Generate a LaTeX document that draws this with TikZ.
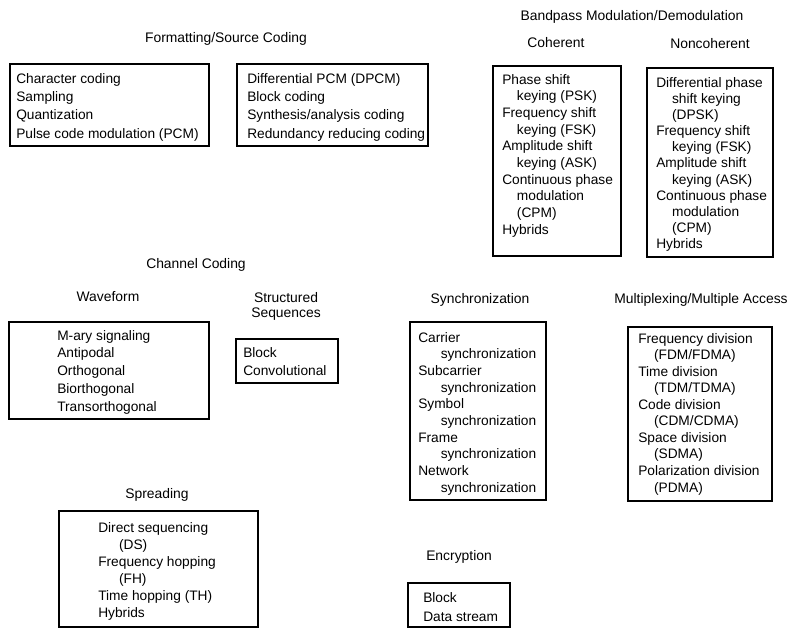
\documentclass[tikz,border=0pt]{standalone}
\usepackage{fontspec}
\setmainfont{Liberation Sans}
\usetikzlibrary{fit}
\newcommand{\T}{\rule{0pt}{8pt}}
\newcommand{\ind}[1][11pt]{\hspace*{#1}}
\tikzset{
  box/.style={draw, line width=0.9pt, inner sep=0pt},
  head/.style={font=\fontsize{10.4pt}{11.2pt}\selectfont, anchor=base, inner sep=0pt, align=center},
  txt/.style={font=\fontsize{10.3pt}{#1}\selectfont, align=left, anchor=north west, inner sep=0pt},
}
\begin{document}
\begin{tikzpicture}[x=0.75pt, y=-0.75pt]
\useasboundingbox (0,0) rectangle (795,628);

% headings
\node[head] (hfs)   at (226,42)  {Formatting/Source Coding};
\node[head] (hbp)   at (632,20)  {Bandpass Modulation/Demodulation};
\node[head] (hcoh)  at (556,47)  {Coherent};
\node[head] (hnon)  at (710,48)  {Noncoherent};
\node[head] (hcc)   at (196,268) {Channel Coding};
\node[head] (hwave) at (108,301) {Waveform};
\node[head] (hstr)  at (286,317) {Structured\\Sequences};
\node[head] (hsync) at (480,303) {Synchronization};
\node[head] (hmux)  at (701,303) {Multiplexing/Multiple Access};
\node[head] (hspr)  at (157,498) {Spreading};
\node[head] (henc)  at (459,560) {Encryption};

% boxes
\node[box, fit={(10,64) (209,146)}]   (bfs1) {};
\node[box, fit={(237,64) (428,146)}]  (bfs2) {};
\node[box, fit={(493,66) (621,256)}]  (bcoh) {};
\node[box, fit={(647,68) (773,257)}]  (bnon) {};
\node[box, fit={(9,322) (209,419)}]   (bwave) {};
\node[box, fit={(236,339) (338,383)}] (bstr) {};
\node[box, fit={(410,322) (546,500)}] (bsync) {};
\node[box, fit={(628,327) (772,501)}] (bmux) {};
\node[box, fit={(59,511) (258,627)}]  (bspr) {};
\node[box, fit={(408,583) (510,627)}] (benc) {};

% box texts
\node[txt=13.7pt] (tfs1) at (16,72.3) {\T Character coding\\Sampling\\Quantization\\Pulse code modulation (PCM)};
\node[txt=13.7pt] (tfs2) at (247,72.3) {\T Differential PCM (DPCM)\\Block coding\\Synthesis/analysis coding\\Redundancy reducing coding};
\node[txt=12.5pt] (tcoh) at (502,73.3) {\T Phase shift\\\ind keying (PSK)\\Frequency shift\\\ind keying (FSK)\\Amplitude shift\\\ind keying (ASK)\\Continuous phase\\\ind modulation\\\ind (CPM)\\Hybrids};
\node[txt=12.1pt] (tnon) at (656,76.3) {\T Differential phase\\\ind[9pt] shift keying\\\ind[9pt] (DPSK)\\Frequency shift\\\ind[9pt] keying (FSK)\\Amplitude shift\\\ind[9pt] keying (ASK)\\Continuous phase\\\ind[9pt] modulation\\\ind[9pt] (CPM)\\Hybrids};
\node[txt=13.3pt] (twave) at (57,329.3) {\T M-ary signaling\\Antipodal\\Orthogonal\\Biorthogonal\\Transorthogonal};
\node[txt=13.5pt] (tstr) at (243,346.3) {\T Block\\Convolutional};
\node[txt=12.5pt] (tsync) at (418,331.3) {\T Carrier\\\ind[14pt] synchronization\\Subcarrier\\\ind[14pt] synchronization\\Symbol\\\ind[14pt] synchronization\\Frame\\\ind[14pt] synchronization\\Network\\\ind[14pt] synchronization};
\node[txt=12.4pt] (tmux) at (638,332.3) {\T Frequency division\\\ind[9pt] (FDM/FDMA)\\Time division\\\ind[9pt] (TDM/TDMA)\\Code division\\\ind[9pt] (CDM/CDMA)\\Space division\\\ind[9pt] (SDMA)\\Polarization division\\\ind[9pt] (PDMA)};
\node[txt=12.75pt] (tspr) at (98,521.3) {\T Direct sequencing\\\ind[12.75pt] (DS)\\Frequency hopping\\\ind[12.75pt] (FH)\\Time hopping (TH)\\Hybrids};
\node[txt=14.25pt] (tenc) at (423,591.3) {\T Block\\Data stream};
\end{tikzpicture}
\end{document}
